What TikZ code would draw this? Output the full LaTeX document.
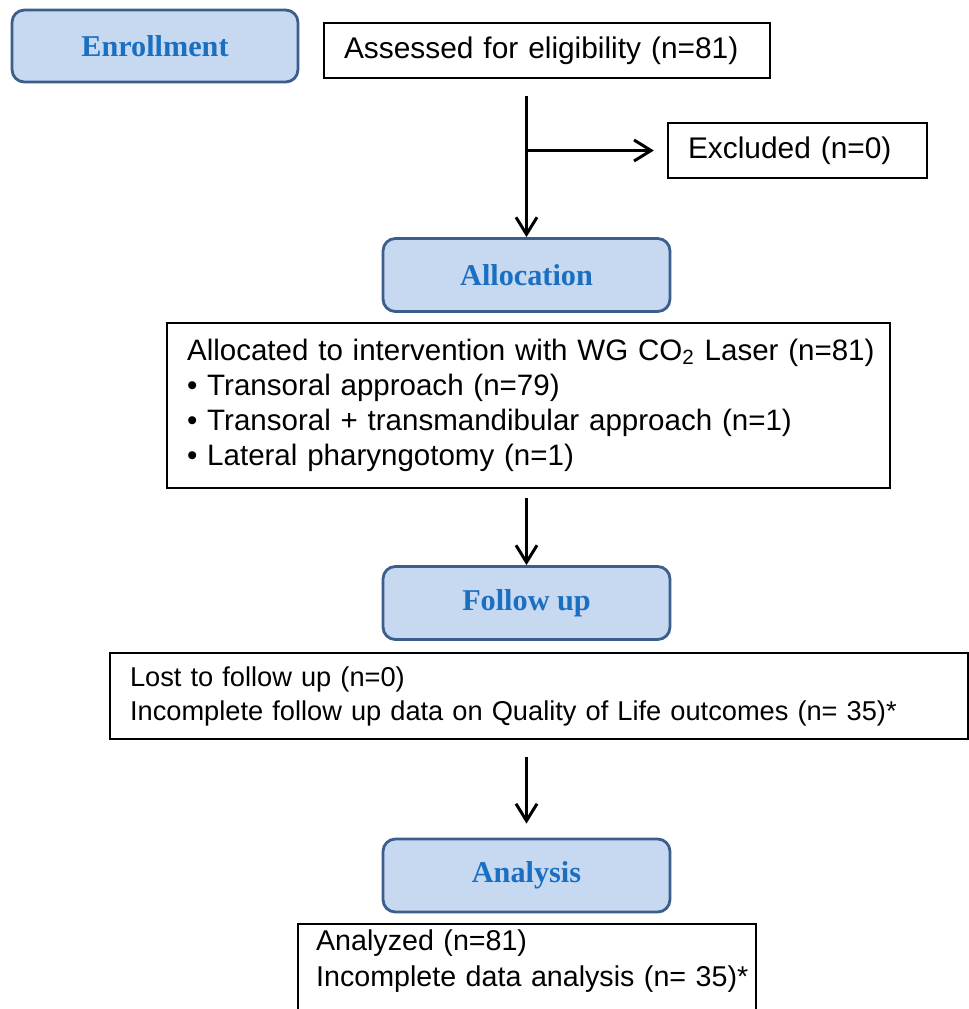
\documentclass[tikz,border=0pt]{standalone}
\usepackage{fontspec}
\setmainfont{Liberation Sans}
\newfontfamily\stagefont{Liberation Serif}
\usepackage{xcolor}
\usetikzlibrary{arrows.meta, positioning, calc}
\definecolor{stagefill}{HTML}{C6D9F1}
\definecolor{stageedge}{HTML}{3B5E8C}
\definecolor{stagetext}{HTML}{1A6FC0}

\begin{document}
\begin{tikzpicture}[x=0.02cm, y=-0.02cm,
  stage/.style={draw=stageedge, line width=1.6pt, rounded corners=7pt, fill=stagefill, minimum width=5.74cm, minimum height=1.46cm, font=\stagefont\bfseries\fontsize{17.2}{20}\selectfont, text=stagetext},
  info/.style={draw=black, line width=1.3pt, inner xsep=0.4cm, align=left, font=\fontsize{17}{20}\selectfont},
  flow/.style={-{Straight Barb[length=0.34cm, width=0.42cm]}, line width=1.7pt}]
  \path[use as bounding box] (0,0) rectangle (969,1009);
  \clip (0,0) rectangle (969,1009);
  \node[stage, minimum width=5.72cm, minimum height=1.44cm] (enrol) at (155,46) {Enrollment};
  \node[info, text width=8.12cm, minimum height=1.1cm] (assess) at (547,50.5) {Assessed for eligibility (n=81)};
  \node[info, text width=4.38cm, minimum height=1.1cm] (excl) at (797.5,150.5) {Excluded (n=0)};
  \node[stage] (alloc) at (526.5,275) {Allocation};
  \node[info, inner xsep=0.1cm, text width=14.26cm, minimum height=3.3cm, font=\fontsize{16.8}{20}\selectfont, execute at begin node={\setlength{\leftskip}{0.3cm}}] (alloctext) at (528.5,405.5) {Allocated to intervention with WG CO\textsubscript{2} Laser (n=81)\\
    • Transoral approach (n=79)\\
    • Transoral + transmandibular approach (n=1)\\
    • Lateral pharyngotomy (n=1)};
  \node[stage] (follow) at (526.5,603) {Follow up};
  \node[info, text width=16.36cm, minimum height=1.72cm, font=\fontsize{15.5}{19.4}\selectfont] (lost) at (539,696) {Lost to follow up (n=0)\\
    Incomplete follow up data on Quality of Life outcomes (n= 35)*};
  \node[stage] (analysis) at (526.5,875.5) {Analysis};
  \node[info, anchor=north west, inner xsep=0.1cm, text width=8.96cm, text depth=2cm, font=\fontsize{16.3}{20.5}\selectfont, execute at begin node={\setlength{\leftskip}{0.26cm}}] (analyzed) at (297,923) {Analyzed (n=81)\\
    Incomplete data analysis (n= 35)*};
  \coordinate (split) at (alloc.north |- excl.west);
  \draw[flow] ($(assess.south -| alloc.north)+(0,17)$) -- (alloc.north);
  \draw[flow] (split) -- ($(excl.west)+(-13,0)$);
  \draw[flow] ($(alloctext.south -| follow.north)+(0,9)$) -- (follow.north);
  \draw[flow] ($(lost.south -| analysis.north)+(0,17)$) -- ($(analysis.north)+(0,-14)$);
\end{tikzpicture}
\end{document}
